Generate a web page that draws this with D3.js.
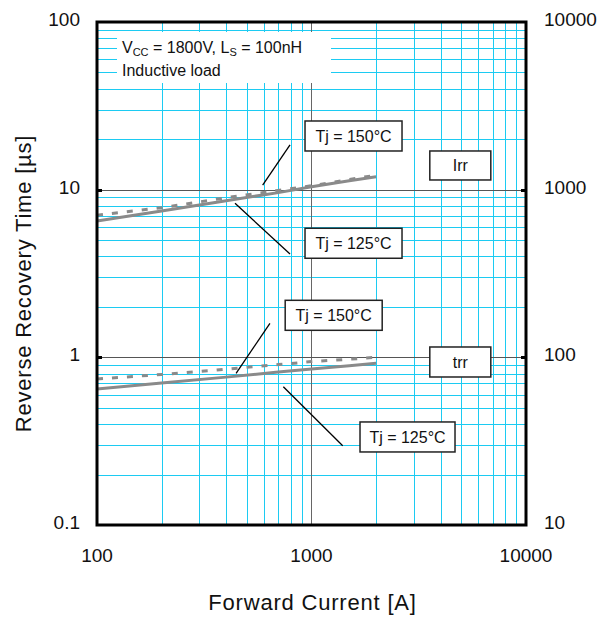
<!DOCTYPE html>
<html><head><meta charset="utf-8">
<script src="https://cdn.jsdelivr.net/npm/d3@7"></script>
<style>body{margin:0;background:#fff}svg text{font-family:Arial,"Liberation Sans",sans-serif}</style>
</head><body><svg id="c" width="600" height="617"></svg>
<script>
// ---- data ----
const current = [100, 200, 400, 700, 1000, 1500, 2000];
const irr125 = [6.5, 7.45, 8.6, 9.6, 10.4, 11.3, 11.95];
const irr150 = [7.05, 7.8, 8.95, 9.9, 10.55, 11.5, 12.2];
const trr125 = [0.648, 0.703, 0.762, 0.817, 0.853, 0.892, 0.922];
const trr150 = [0.743, 0.79, 0.85, 0.905, 0.943, 0.975, 1.0];
const xTicks = [100, 1000, 10000];
const yTicksLeft = [0.1, 1, 10, 100];
const yTicksRight = [10, 100, 1000, 10000];
// annotation boxes: [label, centerX(A), centerY(value), w, h]
const boxes = [
  ["Tj = 150°C", 1570, 20.9, 97, 30],
  ["Tj = 125°C", 1570, 4.79, 97, 30],
  ["Irr", 4940, 13.94, 61, 29],
  ["Tj = 150°C", 1269, 1.781, 97, 30],
  ["Tj = 125°C", 2803, 0.335, 95, 30],
  ["trr", 4940, 0.938, 61, 30]
];
// leader lines: [x1,y1,x2,y2] in data units
const leaders = [
  [592, 10.66, 794, 18.5],
  [440, 8.29, 794, 4.13],
  [445, 0.803, 640, 1.596],
  [739, 0.668, 1398, 0.297]
];

const svg = d3.select("#c");
const L = 97, R = 526, T = 22, B = 525;
const x = d3.scaleLog().domain([100, 10000]).range([L, R]);
const y = d3.scaleLog().domain([0.1, 100]).range([B, T]);
const yR = d3.scaleLog().domain([10, 10000]).range([B, T]);

// minor grid
const minorX = [], minorY = [];
[100, 1000].forEach(d => { for (let k = 2; k <= 9; k++) minorX.push(d * k); });
[0.1, 1, 10].forEach(d => { for (let k = 2; k <= 9; k++) minorY.push(d * k); });
const g = svg.append("g");
g.selectAll(".vx").data(minorX).join("line")
  .attr("x1", d => Math.round(x(d)) + 0.5).attr("x2", d => Math.round(x(d)) + 0.5)
  .attr("y1", T).attr("y2", B).attr("stroke", "#1ccbf2").attr("stroke-width", 1);
g.selectAll(".hy").data(minorY).join("line")
  .attr("y1", d => Math.round(y(d)) + 0.5).attr("y2", d => Math.round(y(d)) + 0.5)
  .attr("x1", L).attr("x2", R).attr("stroke", "#1ccbf2").attr("stroke-width", 1);
// decade lines
g.selectAll(".dx").data([1000]).join("line")
  .attr("x1", d => Math.round(x(d)) + 0.5).attr("x2", d => Math.round(x(d)) + 0.5)
  .attr("y1", T).attr("y2", B).attr("stroke", "#666").attr("stroke-width", 1);
g.selectAll(".dy").data([1, 10]).join("line")
  .attr("y1", d => Math.round(y(d)) + 0.5).attr("y2", d => Math.round(y(d)) + 0.5)
  .attr("x1", L).attr("x2", R).attr("stroke", "#555").attr("stroke-width", 1);

// condition box
svg.append("rect").attr("x", L + 20).attr("y", T + 10).attr("width", 214).attr("height", 51).attr("fill", "#fff");
const t1 = svg.append("text").attr("x", L + 25).attr("y", T + 31).attr("font-size", 16).attr("fill", "#111");
t1.append("tspan").text("V");
t1.append("tspan").text("CC").attr("font-size", 11).attr("dy", 3);
t1.append("tspan").text(" = 1800V, L").attr("dy", -3);
t1.append("tspan").text("S").attr("font-size", 11).attr("dy", 3);
t1.append("tspan").text(" = 100nH").attr("dy", -3);
svg.append("text").attr("x", L + 25).attr("y", T + 54).attr("font-size", 16).attr("fill", "#111").text("Inductive load");

// curves
const line = d3.line().x(d => x(d[0])).y(d => y(d[1]));
const series = [
  {v: irr125, dash: null}, {v: irr150, dash: "6,9"},
  {v: trr125, dash: null}, {v: trr150, dash: "6,9"}
];
series.forEach(s => {
  svg.append("path").datum(current.map((c, i) => [c, s.v[i]]))
    .attr("d", line).attr("fill", "none").attr("stroke", "#8a8a8a")
    .attr("stroke-width", 3).attr("stroke-dasharray", s.dash);
});

// leaders
svg.selectAll(".ld").data(leaders).join("line")
  .attr("x1", d => x(d[0])).attr("y1", d => y(d[1]))
  .attr("x2", d => x(d[2])).attr("y2", d => y(d[3]))
  .attr("stroke", "#000").attr("stroke-width", 1.3);

// boxes
const bg = svg.selectAll(".bx").data(boxes).join("g");
bg.append("rect").attr("x", d => x(d[1]) - d[3] / 2).attr("y", d => y(d[2]) - d[4] / 2)
  .attr("width", d => d[3]).attr("height", d => d[4])
  .attr("fill", "#fff").attr("stroke", "#222").attr("stroke-width", 1.5);
bg.append("text").attr("x", d => x(d[1])).attr("y", d => y(d[2]) + 6)
  .attr("text-anchor", "middle").attr("font-size", 16).attr("fill", "#111").text(d => d[0]);

// decade ticks on borders
svg.selectAll(".tl").data([1, 10]).join("line")
  .attr("x1", L).attr("x2", L + 5).attr("y1", d => Math.round(y(d)) + 0.5).attr("y2", d => Math.round(y(d)) + 0.5)
  .attr("stroke", "#000").attr("stroke-width", 3);
svg.selectAll(".tr").data([1, 10]).join("line")
  .attr("x1", R - 5).attr("x2", R).attr("y1", d => Math.round(y(d)) + 0.5).attr("y2", d => Math.round(y(d)) + 0.5)
  .attr("stroke", "#000").attr("stroke-width", 3);

// frame
svg.append("rect").attr("x", L).attr("y", T).attr("width", R - L).attr("height", B - T)
  .attr("fill", "none").attr("stroke", "#000").attr("stroke-width", 3);

// tick labels
svg.selectAll(".xl").data(xTicks).join("text")
  .attr("x", d => x(d)).attr("y", B + 37).attr("text-anchor", "middle")
  .attr("font-size", 19).attr("fill", "#111").text(d => d3.format("d")(d));
svg.selectAll(".yl").data(yTicksLeft).join("text")
  .attr("x", L - 17).attr("y", d => y(d) + 4).attr("text-anchor", "end")
  .attr("font-size", 19).attr("fill", "#111").text(d => d < 1 ? d.toString() : d3.format("d")(d));
svg.selectAll(".yr").data(yTicksRight).join("text")
  .attr("x", R + 18).attr("y", d => yR(d) + 4).attr("text-anchor", "start")
  .attr("font-size", 19).attr("fill", "#111").text(d => d3.format("d")(d));

// axis titles
svg.append("text").attr("x", (L + R) / 2 + 1).attr("y", 610).attr("text-anchor", "middle")
  .attr("font-size", 22).attr("letter-spacing", 0.8).attr("fill", "#111").text("Forward Current [A]");
svg.append("text").attr("transform", `translate(31,${(T + B) / 2 + 10}) rotate(-90)`)
  .attr("text-anchor", "middle").attr("font-size", 22).attr("letter-spacing", 0.8).attr("fill", "#111").text("Reverse Recovery Time [µs]");
</script></body></html>
